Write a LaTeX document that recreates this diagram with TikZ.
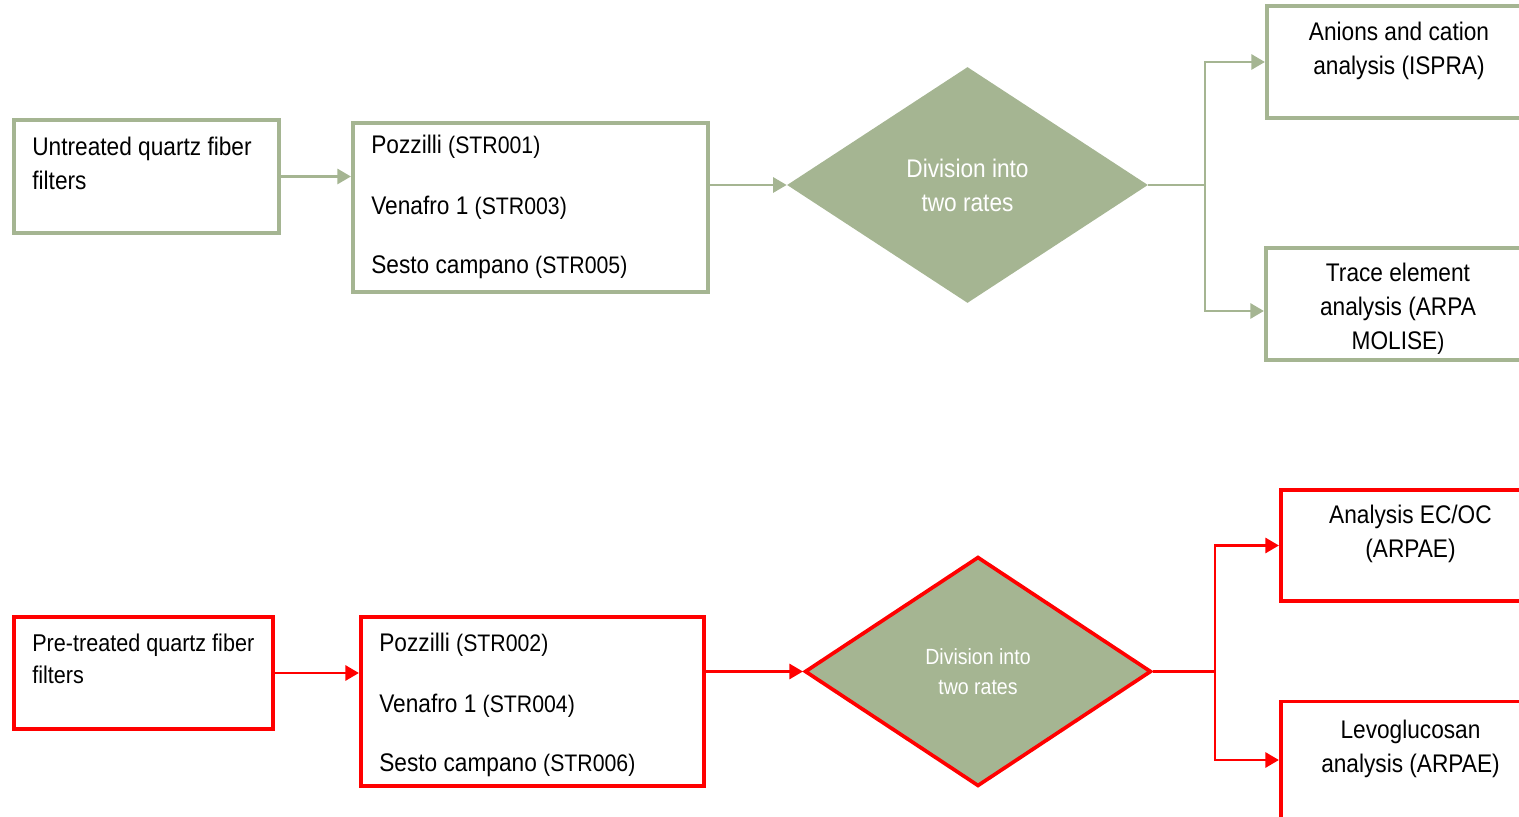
\documentclass[tikz,border=0pt]{standalone}
\usepackage{fontspec}
\setmainfont{Liberation Sans}[FakeStretch=0.89]
\usetikzlibrary{arrows.meta,shapes.geometric}
\definecolor{sage}{RGB}{165,181,146}
\definecolor{alarm}{RGB}{255,0,0}
\newcommand{\stcode}[1]{{\fontsize{13.6}{15}\selectfont #1}}

\begin{document}
\begin{tikzpicture}[x=0.02cm, y=-0.02cm,
    box/.style={draw, rectangle, line width=2.1pt, inner sep=0pt},
    gbox/.style={box, draw=sage},
    rbox/.style={box, draw=alarm},
    lbl/.style={inner sep=0pt, text=black, font=\fontsize{14.5}{19.3}\selectfont},
    decide/.style={diamond, fill=sage, inner sep=0pt, text=white, align=center},
    link/.style={line width=1.5pt, -{Triangle[length=0.27cm, width=0.3cm]}}]
    \useasboundingbox (0,0) rectangle (1519,817);

    % untreated filters
    \node[gbox, minimum width=5.31cm, minimum height=2.27cm] (box1) at (146.5, 176.5) {};
    \node[lbl, anchor=north west, align=left] (t1) at (32, 137) {Untreated quartz fiber\\filters};
    \node[gbox, minimum width=7.11cm, minimum height=3.39cm] (box2) at (530.5, 207.5) {};
    \node[lbl, anchor=base west] (s1) at (371, 154) {Pozzilli \stcode{(STR001)}};
    \node[lbl, anchor=base west] (s3) at (371, 215) {Venafro 1 \stcode{(STR003)}};
    \node[lbl, anchor=base west] (s5) at (371, 274) {Sesto campano \stcode{(STR005)}};
    \node[decide, lbl, text=white, minimum width=7.22cm, minimum height=4.72cm] (dia1) at (967.5, 185) {Division into\\two rates};
    \node[gbox, minimum width=5.29cm, minimum height=2.25cm] (box3) at (1399, 62) {};
    \node[lbl, anchor=north, align=center] (t3) at (1399, 22) {Anions and cation\\analysis (ISPRA)};
    \node[gbox, minimum width=5.29cm, minimum height=2.25cm] (box4) at (1398, 304) {};
    \node[lbl, anchor=north, align=center] (t4) at (1398, 263) {Trace element\\analysis (ARPA\\MOLISE\stcode{)}};

    % pre-treated filters
    \node[rbox, minimum width=5.19cm, minimum height=2.25cm] (box5) at (143.5, 673) {};
    \node[lbl, font=\fontsize{13.8}{18.1}\selectfont, anchor=north west, align=left] (t5) at (32, 634) {Pre-treated quartz fiber\\filters};
    \node[rbox, minimum width=6.87cm, minimum height=3.39cm] (box6) at (532.5, 701.5) {};
    \node[lbl, anchor=base west] (s2) at (379, 651) {Pozzilli \stcode{(STR002)}};
    \node[lbl, anchor=base west] (s4) at (379, 712) {Venafro 1 \stcode{(STR004)}};
    \node[lbl, anchor=base west] (s6) at (379, 771) {Sesto campano \stcode{(STR006)}};
    \node[decide, lbl, text=white, font=\fontsize{12.5}{17}\selectfont, draw=alarm, line width=2.1pt, minimum width=6.93cm, minimum height=4.59cm] (dia2) at (978, 671.5) {Division into\\two rates};
    \node[rbox, minimum width=5.19cm, minimum height=2.23cm] (box7) at (1410.5, 545.5) {};
    \node[lbl, anchor=north, align=center] (t7) at (1410.5, 505) {Analysis EC/OC\\(ARPAE)};
    \node[rbox, minimum width=5.19cm, minimum height=2.5cm] (box8) at (1410.5, 764) {};
    \node[lbl, anchor=north, align=center] (t8) at (1410.5, 720) {Levoglucosan\\analysis (ARPAE)};

    % connectors
    \coordinate (fork1) at (1205, 185);
    \coordinate (fork2) at (1215, 671.5);
    \draw[link, sage] (box1.east) -- (box1.east -| box2.west);
    \draw[link, sage] (box2.east |- dia1.west) -- (dia1.west);
    \draw[line width=1.5pt, sage] (dia1.east) -- (fork1);
    \draw[link, sage] (fork1) |- (box3.west);
    \draw[link, sage] (fork1) |- ([yshift=-0.14cm]box4.west);
    \draw[link, alarm] (box5.east) -- (box5.east -| box6.west);
    \draw[link, alarm] (box6.east |- dia2.west) -- (dia2.west);
    \draw[line width=1.5pt, alarm] (dia2.east) -- (fork2);
    \draw[link, alarm] (fork2) |- (box7.west);
    \draw[link, alarm] (fork2) |- ([yshift=0.08cm]box8.west);
\end{tikzpicture}
\end{document}
